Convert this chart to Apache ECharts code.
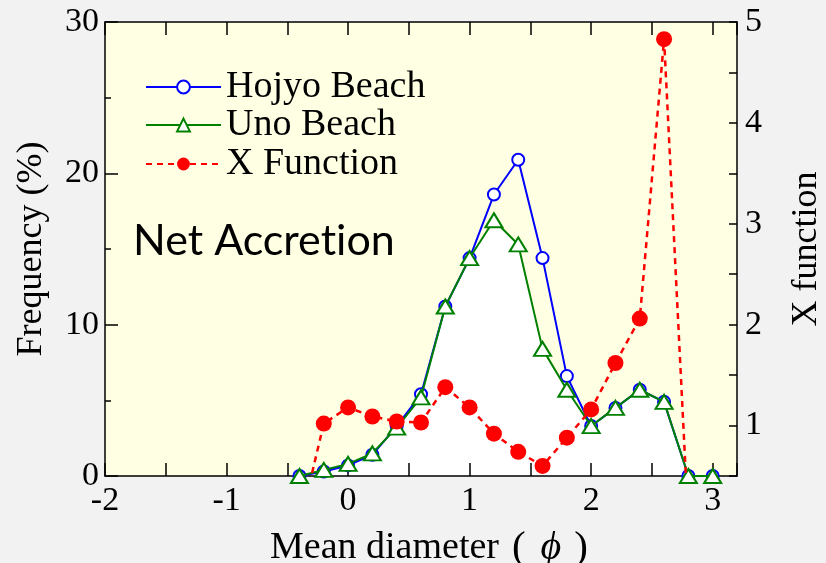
<!DOCTYPE html>
<html><head><meta charset="utf-8">
<script src="https://cdn.jsdelivr.net/npm/echarts@6/dist/echarts.min.js"></script>
<style>html,body{margin:0;padding:0;background:#f2f2f2}#c{width:826px;height:563px}</style>
</head><body><div id="c"></div><script>
// Mean diameter (phi) categories
const phi = [-0.4,-0.2,0,0.2,0.4,0.6,0.8,1.0,1.2,1.4,1.6,1.8,2.0,2.2,2.4,2.6,2.8,3.0];
// Frequency (%)
const hojyo = [0,0.3,0.7,1.4,3.3,5.4,11.2,14.4,18.6,20.9,14.4,6.6,3.3,4.5,5.7,4.9,0,0];
const uno   = [0,0.4,0.8,1.5,3.2,5.2,11.2,14.4,16.9,15.3,8.4,5.7,3.3,4.5,5.7,4.9,0,0];
// X function (right axis)
const xFunc = [0,1.02,1.18,1.09,1.04,1.03,1.38,1.18,0.92,0.74,0.60,0.88,1.16,1.62,2.06,4.83,0,0];
const seriesNames = ['Hojyo Beach','Uno Beach','X Function'];
const annotation = 'Net Accret\u200Cion';

const pairs = arr => phi.map((p,i)=>[p, arr[i]]);
const SERIF = '"Liberation Serif","Times New Roman",serif';
const isInt = v => Math.abs(v - Math.round(v)) < 1e-6;

const chart = echarts.init(document.getElementById('c'), null, {renderer:'canvas'});
const legendBase = {orient:'vertical', left:145, itemWidth:75, itemHeight:16, padding:0,
  textStyle:{fontSize:38, fontFamily:SERIF, color:'#000'}, selectedMode:false};
chart.setOption({
  backgroundColor:'#f2f2f2',
  animation:false,
  grid:{left:105, right:89, top:22, bottom:87, show:true, backgroundColor:'#ffffe3', borderWidth:0,
        outerBoundsMode:'none', containLabel:false},
  legend:[
    Object.assign({data:[seriesNames[0]], top:68}, legendBase),
    Object.assign({data:[seriesNames[1]], top:106}, legendBase),
    Object.assign({data:[seriesNames[2]], top:145}, legendBase)
  ],
  graphic:[{type:'text', left:133, top:220, z:10,
    style:{text:annotation, font:'43px Lato', fill:'#000'}}],
  xAxis:[{
    type:'value', min:-2, max:3.2, interval:0.5, position:'bottom', z:1.5,
    axisLine:{show:true, onZero:false, lineStyle:{color:'#000', width:1.5}},
    axisTick:{show:true, inside:true, length:13, lineStyle:{color:'#000', width:1.5}},
    axisLabel:{margin:8, fontSize:34, fontFamily:SERIF, color:'#000',
      formatter:v=>isInt(v)? String(Math.round(v)) : ''},
    splitLine:{show:false},
    name:'Mean diameter{p|(}{i|ϕ}{q|)}', nameLocation:'middle', nameGap:52,
    nameTextStyle:{fontSize:38, fontFamily:SERIF, color:'#000', padding:[0,0,0,16],
      rich:{i:{fontSize:40, fontFamily:SERIF, fontStyle:'italic', color:'#000', padding:[0,13,0,0]},
            p:{fontSize:41, fontFamily:SERIF, color:'#000', padding:[0,15,0,13]},
            q:{fontSize:41, fontFamily:SERIF, color:'#000'}}}
  },{
    type:'value', min:-2, max:3.2, interval:0.5, position:'top', z:1.5,
    axisLine:{show:true, onZero:false, lineStyle:{color:'#000', width:1.5}},
    axisTick:{show:true, inside:true, length:13, lineStyle:{color:'#000', width:1.5}},
    axisLabel:{show:false}, splitLine:{show:false}
  }],
  yAxis:[{
    type:'value', min:0, max:30, interval:10, position:'left', z:1.5,
    axisLine:{show:true, onZero:false, lineStyle:{color:'#000', width:1.5}},
    axisTick:{show:true, inside:true, length:13, lineStyle:{color:'#000', width:1.5}},
    minorTick:{show:true, splitNumber:2, length:6, lineStyle:{color:'#000', width:1.5}},
    axisLabel:{margin:6, fontSize:34, fontFamily:SERIF, color:'#000'},
    splitLine:{show:false},
    name:'Frequency (%)', nameLocation:'middle', nameGap:55,
    nameTextStyle:{fontSize:36, fontFamily:SERIF, color:'#000'}
  },{
    type:'value', min:0.5, max:5, interval:0.5, position:'right', z:1.5,
    axisLine:{show:true, onZero:false, lineStyle:{color:'#000', width:1.5}},
    axisTick:{show:true, inside:true, length:8, lineStyle:{color:'#000', width:1.5}},
    axisLabel:{margin:8, fontSize:34, fontFamily:SERIF, color:'#000',
      formatter:v=>isInt(v)? String(Math.round(v)) : ''},
    splitLine:{show:false},
    name:'X function', nameLocation:'middle', nameGap:52,
    nameTextStyle:{fontSize:36, fontFamily:SERIF, color:'#000'}
  }],
  series:[
    {name:'area', type:'line', data:pairs(uno), symbol:'none', z:1, silent:true,
     lineStyle:{width:0}, itemStyle:{color:'#ffffff'}, areaStyle:{color:'#ffffff', opacity:1}},
    {name:seriesNames[0], type:'line', data:pairs(hojyo), z:2,
     symbol:'circle', symbolSize:12,
     lineStyle:{color:'#0000ff', width:2},
     itemStyle:{color:'#ffffff', borderColor:'#0000ff', borderWidth:2}},
    {name:seriesNames[1], type:'line', data:pairs(uno), z:3,
     symbol:'triangle', symbolSize:[17,14],
     lineStyle:{color:'#008000', width:2},
     itemStyle:{color:'#ffffff', borderColor:'#008000', borderWidth:2}},
    {name:seriesNames[2], type:'line', data:pairs(xFunc), yAxisIndex:1, z:4,
     symbol:'circle', symbolSize:16,
     lineStyle:{color:'#ff0000', width:2.5, type:[6,5]},
     itemStyle:{color:'#ff0000', borderWidth:0}}
  ]
});
</script></body></html>
